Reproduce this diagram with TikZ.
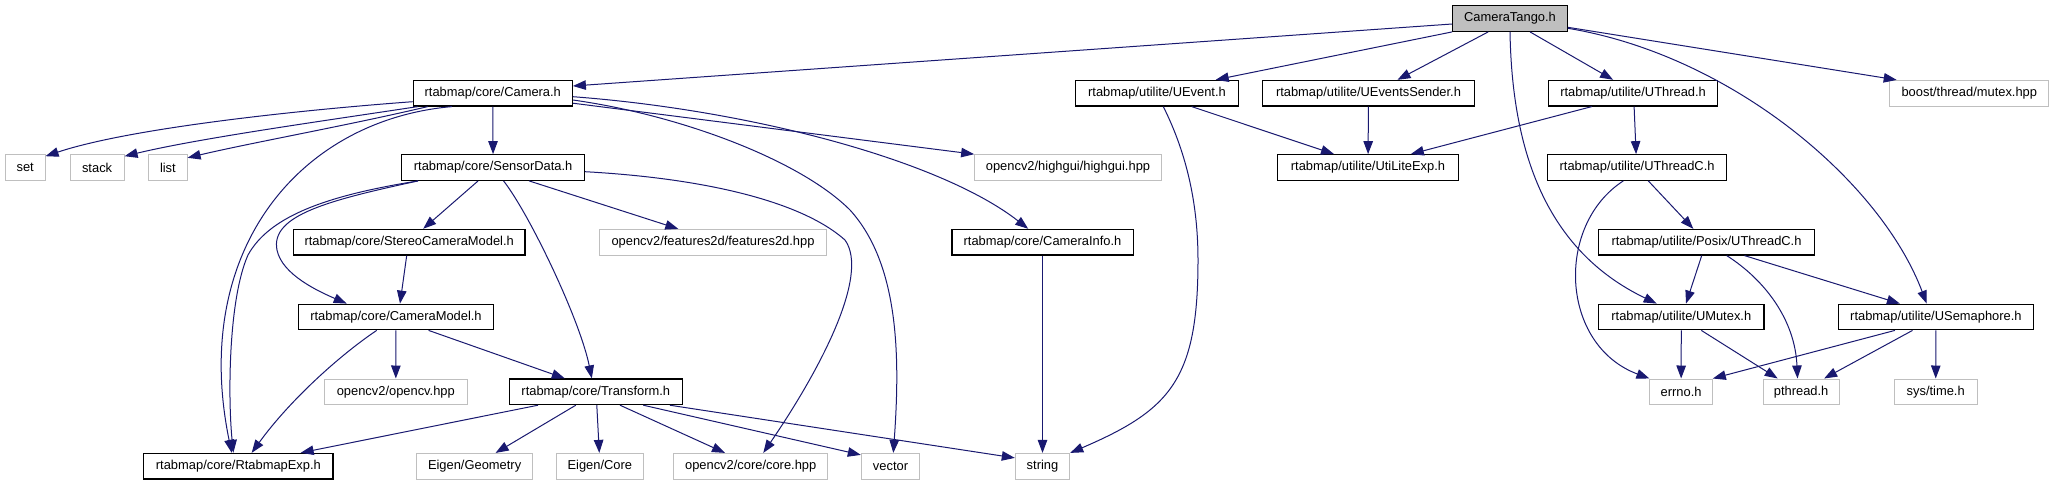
\documentclass[tikz,border=0pt]{standalone}
\usepackage{fontspec}
\setmainfont{Liberation Sans}
\usetikzlibrary{arrows.meta}
\definecolor{edgec}{HTML}{191970}
\definecolor{extc}{HTML}{BFBFBF}
\definecolor{rootfill}{HTML}{BFBFBF}
\tikzset{
  box/.style={draw=black, line width=1.2pt, minimum height=25.6pt, inner sep=0pt,
              font=\fontsize{12.9}{15}\selectfont, anchor=center},
  ext/.style={box, draw=extc, line width=1pt},
  root/.style={box, fill=rootfill},
  edge/.style={draw=edgec, line width=1pt, -{Triangle[length=13pt,width=9.5pt]}},
}
\begin{document}
\begin{tikzpicture}[x=1pt,y=-1pt]
\fill[white] (0,0) rectangle (2053,485);
\useasboundingbox (0,0) rectangle (2053,485);

% row 1
\node[root, minimum width=114.5pt] (tango) at (1510,18.5) {CameraTango.h};
% row 2
\node[box, minimum width=159pt] (cam) at (492.8,93.2) {rtabmap/core/Camera.h};
\node[box, minimum width=163pt] (uevent) at (1157,93.2) {rtabmap/utilite/UEvent.h};
\node[box, minimum width=212pt] (usender) at (1368.5,93.2) {rtabmap/utilite/UEventsSender.h};
\node[box, minimum width=169pt] (uthread) at (1633.1,93.2) {rtabmap/utilite/UThread.h};
\node[ext, minimum width=158.7pt] (boost) at (1969.3,93.2) {boost/thread/mutex.hpp};
% row 3
\node[ext, minimum width=39.7pt] (set) at (25.2,167.5) {set};
\node[ext, minimum width=54pt] (stack) at (97.1,167.5) {stack};
\node[ext, minimum width=38.4pt] (list) at (167.9,167.5) {list};
\node[box, minimum width=182.6pt] (sensor) at (493.1,167.5) {rtabmap/core/SensorData.h};
\node[ext, minimum width=186.7pt] (highgui) at (1068,167.5) {opencv2/highgui/highgui.hpp};
\node[box, minimum width=181pt] (utilexp) at (1368,167.5) {rtabmap/utilite/UtiLiteExp.h};
\node[box, minimum width=178.6pt] (uthreadc) at (1637.1,167.5) {rtabmap/utilite/UThreadC.h};
% row 4
\node[box, minimum width=231.7pt] (stereo) at (409.2,242.2) {rtabmap/core/StereoCameraModel.h};
\node[ext, minimum width=226.8pt] (feat) at (713,242.2) {opencv2/features2d/features2d.hpp};
\node[box, minimum width=181.2pt] (caminfo) at (1042.5,242.2) {rtabmap/core/CameraInfo.h};
\node[box, minimum width=215.6pt] (posix) at (1706.5,242.2) {rtabmap/utilite/Posix/UThreadC.h};
% row 5
\node[box, minimum width=194.6pt] (cammodel) at (396,317) {rtabmap/core/CameraModel.h};
\node[box, minimum width=165.3pt] (umutex) at (1681.3,317) {rtabmap/utilite/UMutex.h};
\node[box, minimum width=194.4pt] (usem) at (1935.9,317) {rtabmap/utilite/USemaphore.h};
% row 6
\node[ext, minimum width=142.4pt] (opencv) at (395.8,391.8) {opencv2/opencv.hpp};
\node[box, minimum width=172.8pt] (transform) at (595.8,391.8) {rtabmap/core/Transform.h};
\node[ext, minimum width=62.4pt] (errno) at (1681.1,391.8) {errno.h};
\node[ext, minimum width=76pt] (pthread) at (1801.1,391.8) {pthread.h};
\node[ext, minimum width=82.7pt] (systime) at (1935.7,391.8) {sys/time.h};
% row 7
\node[box, minimum width=189.3pt] (rexp) at (238.4,466.2) {rtabmap/core/RtabmapExp.h};
\node[ext, minimum width=116.1pt] (geom) at (474.6,466.2) {Eigen/Geometry};
\node[ext, minimum width=87pt] (ecore) at (599.8,466.2) {Eigen/Core};
\node[ext, minimum width=154.1pt] (corehpp) at (750.7,466.2) {opencv2/core/core.hpp};
\node[ext, minimum width=58.4pt] (vector) at (890.5,466.2) {vector};
\node[ext, minimum width=54.4pt] (string) at (1042.5,466.2) {string};

% CameraTango.h
\draw[edge] ([yshift=-5.5pt]tango.west) -- ([yshift=7.2pt]cam.east);
\draw[edge] (tango.south west) -- ([xshift=58.7pt]uevent.north);
\draw[edge] ([xshift=-21.8pt]tango.south) -- ([xshift=29pt]usender.north);
\draw[edge] ([xshift=20pt]tango.south) -- ([xshift=-20pt]uthread.north);
\draw[edge] (tango.south) .. controls (1512,150) and (1545,250) .. ([xshift=-24.6pt]umutex.north);
\draw[edge] ([yshift=-9.8pt]tango.east) .. controls (1730,55) and (1880,180) .. ([xshift=-9.2pt]usem.north);
\draw[edge] ([yshift=-8.8pt]tango.east) -- ([xshift=-72.6pt]boost.north);

% Camera.h
\draw[edge] ([yshift=-8.5pt]cam.west) .. controls (300,110) and (130,128) .. ([yshift=-2pt]set.north east);
\draw[edge] ([xshift=5pt]cam.south west) .. controls (330,120) and (200,138) .. ([yshift=-2pt]stack.north east);
\draw[edge] ([xshift=15pt]cam.south west) .. controls (350,125) and (250,143) .. ([yshift=-3.6pt]list.north east);
\draw[edge] (cam) -- (sensor);
\draw[edge] ([xshift=-41pt]cam.south) .. controls (300,120) and (190,250) .. ([xshift=-6.7pt]rexp.north);
\draw[edge] ([yshift=-6.8pt]cam.east) .. controls (680,115) and (800,160) .. (850,210)
            .. controls (900,265) and (900,360) .. ([xshift=2.8pt]vector.north);
\draw[edge] ([yshift=-3.5pt]cam.east) .. controls (750,110) and (940,160) .. ([xshift=-14.3pt]caminfo.north);
\draw[edge] ([yshift=-10pt]cam.east) -- (highgui.north west);

% SensorData.h
\draw[edge] ([xshift=-75pt]sensor.south) .. controls (330,195) and (270,215) .. (248,255)
            .. controls (228,300) and (228,400) .. ([xshift=-5pt]rexp.north);
\draw[edge] ([xshift=-75pt]sensor.south) .. controls (330,200) and (270,215) .. (277,250)
            .. controls (282,275) and (320,292) .. ([xshift=-49.3pt]cammodel.north);
\draw[edge] ([xshift=-15pt]sensor.south) -- ([xshift=14pt]stereo.north);
\draw[edge] ([xshift=10.5pt]sensor.south) .. controls (530,215) and (580,320) .. ([xshift=-4pt]transform.north);
\draw[edge] ([xshift=36pt]sensor.south) -- ([xshift=-34.7pt]feat.north);
\draw[edge] ([yshift=-4.2pt]sensor.east) .. controls (700,178) and (800,200) .. (845,240)
            .. controls (870,275) and (820,370) .. ([xshift=12.6pt]corehpp.north);

% StereoCameraModel.h, CameraModel.h
\draw[edge] ([xshift=-2.5pt]stereo.south) -- ([xshift=4pt]cammodel.north);
\draw[edge] ([xshift=-19.3pt]cammodel.south) .. controls (340,355) and (290,400) .. ([xshift=13.3pt]rexp.north);
\draw[edge] (cammodel) -- (opencv);
\draw[edge] ([xshift=32.6pt]cammodel.south) -- ([xshift=-31pt]transform.north);

% Transform.h
\draw[edge] ([xshift=-57.8pt]transform.south) -- ([xshift=-33pt]rexp.north east);
\draw[edge] ([xshift=-20pt]transform.south) -- ([xshift=21pt]geom.north);
\draw[edge] ([xshift=1pt]transform.south) -- ([xshift=-0.5pt]ecore.north);
\draw[edge] ([xshift=24.2pt]transform.south) -- ([xshift=-25.7pt]corehpp.north);
\draw[edge] ([xshift=47.5pt]transform.south) -- ([yshift=-2pt]vector.north west);
\draw[edge] ([xshift=74pt]transform.south) -- ([yshift=-5pt]string.north west);

% CameraInfo.h, UEvent.h, UEventsSender.h
\draw[edge] (caminfo) -- (string);
\draw[edge] ([xshift=6.3pt]uevent.south) .. controls (1185,150) and (1198,200) .. (1198,260)
            .. controls (1198,380) and (1170,410) .. (string.north east);
\draw[edge] ([xshift=34.7pt]uevent.south) -- ([xshift=-34pt]utilexp.north);
\draw[edge] (usender) -- (utilexp);

% UThread.h, UThreadC.h
\draw[edge] ([xshift=-41.4pt]uthread.south) -- ([xshift=42.8pt]utilexp.north);
\draw[edge] ([xshift=1pt]uthread.south) -- ([xshift=-1pt]uthreadc.north);
\draw[edge] ([xshift=11.2pt]uthreadc.south) -- ([xshift=-13.2pt]posix.north);
\draw[edge] ([xshift=-13.8pt]uthreadc.south) .. controls (1555,225) and (1560,345) .. (errno.north west);

% Posix/UThreadC.h
\draw[edge] ([xshift=-4.8pt]posix.south) -- ([xshift=4.7pt]umutex.north);
\draw[edge] ([xshift=20.2pt]posix.south) .. controls (1765,280) and (1795,320) .. ([xshift=-3.6pt]pthread.north);
\draw[edge] ([xshift=38pt]posix.south) -- ([xshift=-36pt]usem.north);

% UMutex.h, USemaphore.h
\draw[edge] (umutex) -- (errno);
\draw[edge] ([xshift=20pt]umutex.south) -- ([xshift=-23.4pt]pthread.north);
\draw[edge] ([xshift=-41pt]usem.south) -- (errno.north east);
\draw[edge] ([xshift=-23.4pt]usem.south) -- ([xshift=23pt]pthread.north);
\draw[edge] (usem) -- (systime);
\end{tikzpicture}
\end{document}
